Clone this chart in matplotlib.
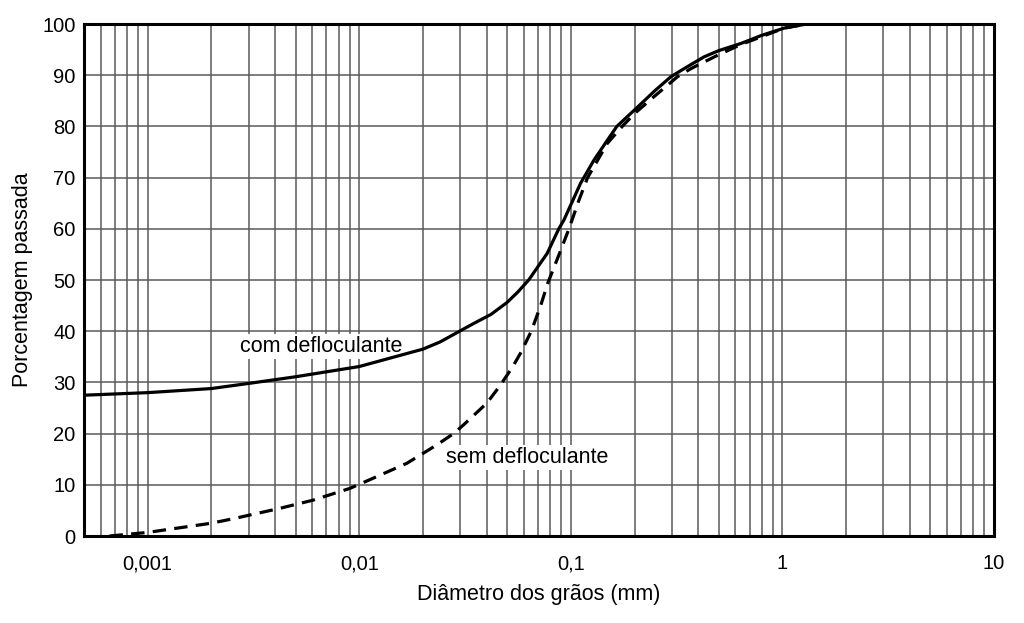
import numpy as np
import matplotlib
matplotlib.use('Agg')
import matplotlib.pyplot as plt
from matplotlib.ticker import FixedLocator, FixedFormatter

plt.rcParams['font.family'] = ['Liberation Sans', 'DejaVu Sans']

# DATA
com_x = [0.0005, 0.001, 0.002, 0.003, 0.005, 0.01, 0.02, 0.0241, 0.0298, 0.0347,
         0.042, 0.0499, 0.056, 0.0632, 0.0773, 0.0877, 0.0927, 0.1112, 0.1285,
         0.1488, 0.165, 0.207, 0.25, 0.297, 0.35, 0.427, 0.5, 0.637, 0.8, 1.02, 1.3]
com_y = [27.5, 28.0, 28.8, 29.8, 31.1, 33.1, 36.5, 37.9, 40.0, 41.5,
         43.3, 45.6, 47.6, 50.0, 55.2, 60.0, 61.7, 68.9, 73.4,
         77.3, 80.0, 83.8, 87.0, 89.7, 91.5, 93.6, 94.8, 96.2, 97.8, 99.2, 100]

sem_x = [0.00066, 0.001, 0.002, 0.00262, 0.00421, 0.00605, 0.00903, 0.01165,
         0.01678, 0.02327, 0.0279, 0.0311, 0.0402, 0.0465, 0.053, 0.058, 0.065,
         0.072, 0.078, 0.088, 0.098, 0.109, 0.12, 0.1488, 0.175, 0.2, 0.239,
         0.28, 0.319, 0.37, 0.427, 0.5, 0.637, 1.02, 1.3]
sem_y = [0.0, 0.7, 2.5, 3.5, 5.4, 7.0, 9.3, 11.3,
         14.2, 17.8, 20.0, 21.7, 26.0, 29.5, 33.0, 35.8, 40.0,
         45.0, 49.5, 55.0, 60.0, 65.5, 70.0, 76.7, 80.0, 82.5, 85.3,
         87.7, 89.7, 91.3, 92.6, 94.0, 96.0, 99.2, 100]

x_major = [0.001, 0.01, 0.1, 1, 10]
x_labels = ['0,001', '0,01', '0,1', '1', '10']
y_ticks = list(range(0, 101, 10))

# FIGURE
fig = plt.figure(figsize=(10.24, 6.23), dpi=100)
ax = fig.add_axes([84/1024, 1-536/623, 910/1024, 512/623])

ax.set_xscale('log')
ax.set_xlim(0.0005, 10)
ax.set_ylim(0, 100)

minor = [m * 10.0**e for e in range(-4, 1) for m in range(2, 10)]
minor = [v for v in minor if 0.0005 <= v <= 10] + [0.0005]
ax.xaxis.set_major_locator(FixedLocator(x_major))
ax.xaxis.set_major_formatter(FixedFormatter(x_labels))
ax.xaxis.set_minor_locator(FixedLocator(minor))
ax.xaxis.set_minor_formatter(FixedFormatter([''] * len(minor)))
ax.set_yticks(y_ticks)

ax.grid(which='both', axis='x', color='#5a5a5a', lw=1.1)
ax.grid(which='major', axis='y', color='#5a5a5a', lw=1.1)
ax.tick_params(which='both', length=0, labelsize=14.5)
ax.tick_params(axis='x', pad=13)
ax.tick_params(axis='y', pad=6)

for s in ax.spines.values():
    s.set_linewidth(2.2)
    s.set_zorder(5)

ax.plot(com_x, com_y, color='black', lw=2.3, zorder=4, solid_joinstyle='round')
ax.plot(sem_x, sem_y, color='black', lw=2.3, zorder=4, dashes=(4.2, 2.6))

box = dict(facecolor='white', edgecolor='none', pad=1.5)
ax.text(0.00272, 36.0, 'com defloculante', fontsize=15.5, va='baseline', ha='left',
        bbox=box, zorder=3)
ax.text(0.0257, 14.2, 'sem defloculante', fontsize=15.5, va='baseline', ha='left',
        bbox=box, zorder=3)

ax.set_xlabel('Diâmetro dos grãos (mm)', fontsize=15.5, labelpad=8)
ax.set_ylabel('Porcentagem passada', fontsize=15.5)
ax.yaxis.set_label_coords(-0.0555, 0.5)

fig.savefig('out.png', dpi=100)
